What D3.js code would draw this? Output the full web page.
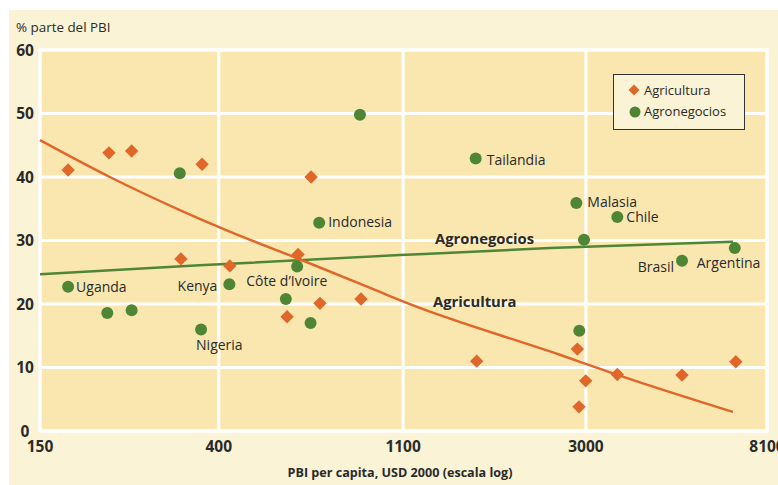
<!DOCTYPE html>
<html><head><meta charset="utf-8">
<script src="https://cdn.jsdelivr.net/npm/d3@7/dist/d3.min.js"></script>
<style>body{margin:0;background:#fff}svg{display:block}text{font-family:"Open Sans",sans-serif;fill:#2a2a2a}</style>
</head><body><svg id="c" width="778" height="485"></svg>
<script>
// Data
const xTicks = [150, 400, 1100, 3000, 8100];
const yTicks = [0, 10, 20, 30, 40, 50, 60];
const agriX = [175, 219, 248, 365, 325, 425, 664, 618, 582, 697, 873, 1647, 2861, 2996, 2888, 3563, 5081, 6826];
const agriY = [41.1, 43.8, 44.1, 42.0, 27.1, 26.0, 40.0, 27.8, 18.0, 20.1, 20.8, 11.0, 12.9, 7.9, 3.8, 8.9, 8.8, 10.9];
const agroX = [175, 217, 248, 363, 424, 323, 615, 578, 662, 694, 868, 1638, 2845, 3563, 2968, 2892, 5081, 6787];
const agroY = [22.7, 18.6, 19.0, 16.0, 23.1, 40.6, 25.9, 20.8, 17.0, 32.8, 49.8, 42.9, 35.9, 33.7, 30.1, 15.8, 26.8, 28.8];
const agroNames = ["Uganda", "", "", "Nigeria", "Kenya", "", "Côte d\u2019Ivoire", "", "", "Indonesia", "", "Tailandia", "Malasia", "Chile", "", "", "Brasil", "Argentina"];
const agriTrendX = [150, 220, 323, 425, 615, 969, 1080, 2600, 3580, 6720];
const agriTrendY = [45.8, 40.0, 34.8, 31.4, 27.2, 21.9, 20.6, 12.0, 8.8, 3.0];
const agroTrendX = [150, 360, 1080, 2460, 6720];
const agroTrendY = [24.7, 26.1, 27.7, 28.8, 29.8];

// Layout
const C_OR = "#e0672a", C_GR = "#4f8636";
const svg = d3.select("#c");
const L = 40, R = 767, T = 50, B = 431;
const x = d3.scaleLog().domain([150, 8100]).range([L, R]);
const y = d3.scaleLinear().domain([0, 60]).range([B, T]);

svg.append("rect").attr("x", 9).attr("y", 10).attr("width", 780).attr("height", 480).attr("fill", "#fbf3d6");
svg.append("rect").attr("x", L).attr("y", T).attr("width", R - L).attr("height", B - T).attr("fill", "#fae7b0");

// grid
const g = svg.append("g");
g.selectAll("line.h").data(yTicks).join("line")
  .attr("x1", L).attr("x2", R).attr("y1", d => y(d)).attr("y2", d => y(d))
  .attr("stroke", "#fff").attr("stroke-width", 3);
g.selectAll("line.v").data(xTicks).join("line").attr("class", "v")
  .attr("y1", T).attr("y2", B).attr("x1", d => x(d)).attr("x2", d => x(d))
  .attr("stroke", "#fff").attr("stroke-width", 3);
svg.append("rect").attr("x", L).attr("y", T).attr("width", R - L).attr("height", B - T)
  .attr("fill", "none").attr("stroke", "#fff").attr("stroke-width", 3);

// axes labels
svg.append("g").selectAll("text").data(yTicks).join("text")
  .attr("x", 25).attr("y", d => y(d)).attr("dy", "0.36em").attr("text-anchor", "middle")
  .attr("font-size", 15.5).attr("font-weight", 700).text(d => d);
svg.append("g").selectAll("text").data(xTicks).join("text")
  .attr("x", d => x(d)).attr("y", 446).attr("dy", "0.36em").attr("text-anchor", "middle")
  .attr("font-size", 15.5).attr("font-weight", 700).text(d => d);
svg.append("text").attr("x", 16).attr("y", 27).attr("dy", "0.36em").attr("font-size", 13.4).text("% parte del PBI");
svg.append("text").attr("x", 400).attr("y", 472).attr("dy", "0.36em").attr("text-anchor", "middle")
  .attr("font-size", 12.6).attr("font-weight", 700).text("PBI per capita, USD 2000 (escala log)");

// trend lines
const line = d3.line().x(d => x(d[0])).y(d => y(d[1])).curve(d3.curveMonotoneX);
svg.append("path").attr("d", line(d3.zip(agroTrendX, agroTrendY))).attr("fill", "none").attr("stroke", C_GR).attr("stroke-width", 2.5);
svg.append("path").attr("d", line(d3.zip(agriTrendX, agriTrendY))).attr("fill", "none").attr("stroke", C_OR).attr("stroke-width", 2.5);

// points
const diamond = d3.symbol().type(d3.symbolSquare).size(90)();
svg.append("g").selectAll("path").data(d3.zip(agriX, agriY)).join("path")
  .attr("d", diamond).attr("fill", C_OR)
  .attr("transform", d => `translate(${x(d[0])},${y(d[1])}) rotate(45)`);
svg.append("g").selectAll("circle").data(d3.zip(agroX, agroY)).join("circle")
  .attr("cx", d => x(d[0])).attr("cy", d => y(d[1])).attr("r", 6).attr("fill", C_GR);

// country labels
const labelPos = {
  "Uganda": [8, 0, "start"], "Nigeria": [-5, 16, "start"], "Kenya": [-12, 2, "end"],
  "Côte d\u2019Ivoire": [-51, 14, "start"], "Indonesia": [9, -1, "start"], "Tailandia": [11, 1, "start"],
  "Malasia": [11, -1, "start"], "Chile": [9, 0, "start"], "Brasil": [-8, 6, "end"], "Argentina": [-38, 15, "start"]
};
svg.append("g").selectAll("text").data(d3.zip(agroX, agroY, agroNames).filter(d => d[2])).join("text")
  .attr("x", d => x(d[0]) + labelPos[d[2]][0]).attr("y", d => y(d[1]) + labelPos[d[2]][1])
  .attr("dy", "0.36em").attr("text-anchor", d => labelPos[d[2]][2]).attr("font-size", 14).text(d => d[2]);

svg.append("text").attr("x", 435).attr("y", 239).attr("dy", "0.36em").attr("font-size", 14.8).attr("font-weight", 700).text("Agronegocios");
svg.append("text").attr("x", 433).attr("y", 302).attr("dy", "0.36em").attr("font-size", 14.8).attr("font-weight", 700).text("Agricultura");

// legend
const lg = svg.append("g");
lg.append("rect").attr("x", 613.5).attr("y", 74.5).attr("width", 131).attr("height", 55)
  .attr("fill", "#fbf3d6").attr("stroke", "#333").attr("stroke-width", 1);
lg.append("path").attr("d", d3.symbol().type(d3.symbolSquare).size(60)()).attr("fill", C_OR)
  .attr("transform", "translate(634,90) rotate(45)");
lg.append("circle").attr("cx", 635).attr("cy", 112).attr("r", 5.5).attr("fill", C_GR);
lg.append("text").attr("x", 644).attr("y", 90).attr("dy", "0.36em").attr("font-size", 13).text("Agricultura");
lg.append("text").attr("x", 644).attr("y", 111).attr("dy", "0.36em").attr("font-size", 13).text("Agronegocios");
</script></body></html>
